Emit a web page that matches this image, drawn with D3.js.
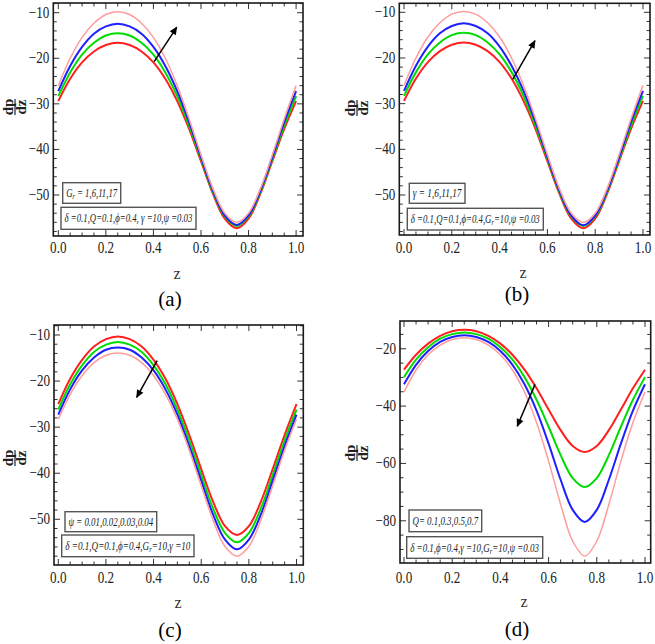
<!DOCTYPE html>
<html><head><meta charset="utf-8">
<script src="https://cdn.jsdelivr.net/npm/d3@7"></script>
<style>
body{margin:0;background:#fff}
svg{display:block}
svg text{font-family:"Liberation Serif","DejaVu Serif",serif}
</style>
</head><body><svg id="c" width="655" height="644"></svg>
<script>
// ---------- data ----------
const zGrid = [0,0.05,0.1,0.15,0.2,0.25,0.3,0.35,0.4,0.45,0.5,0.55,0.6,0.65,0.7,0.75,0.8,0.85,0.9,0.95,1.0];
const xTicks = [0,0.2,0.4,0.6,0.8,1.0];
const yTicksABC = [-50,-40,-30,-20,-10];
const yTicksD = [-80,-60,-40,-20];

// panel (a): G_r = 1,6,11,17
const aRed   = [-29.4,-24.5,-20.9,-18.5,-17.1,-16.6,-17.1,-18.5,-20.9,-24.5,-29.4,-35.5,-42.6,-49.7,-55.2,-57.3,-55.2,-49.7,-42.6,-35.5,-29.4];
const aGreen = [-28.3,-23.1,-19.2,-16.6,-15.0,-14.5,-15.0,-16.6,-19.2,-23.1,-28.3,-34.8,-42.1,-49.3,-54.7,-56.8,-54.7,-49.3,-42.1,-34.8,-28.3];
const aBlue  = [-27.2,-21.7,-17.5,-14.6,-13.0,-12.4,-13.0,-14.6,-17.5,-21.7,-27.2,-34.0,-41.7,-49.0,-54.5,-56.6,-54.5,-49.0,-41.7,-34.0,-27.2];
const aPink  = [-26.0,-20.0,-15.4,-12.3,-10.4,-9.8,-10.4,-12.3,-15.4,-20.0,-26.0,-33.3,-41.2,-48.6,-54.0,-56.0,-54.0,-48.6,-41.2,-33.3,-26.0];
// panel (b): gamma = 1,6,11,17
const bRed   = [-29.4,-24.5,-20.9,-18.5,-17.1,-16.6,-17.1,-18.5,-20.9,-24.5,-29.4,-35.5,-42.6,-49.7,-55.2,-57.3,-55.2,-49.7,-42.6,-35.5,-29.4];
const bGreen = [-28.3,-23.1,-19.2,-16.6,-15.0,-14.5,-15.0,-16.6,-19.2,-23.1,-28.3,-34.8,-42.1,-49.3,-54.7,-56.8,-54.7,-49.3,-42.1,-34.8,-28.3];
const bBlue  = [-27.2,-21.7,-17.5,-14.6,-13.0,-12.4,-13.0,-14.6,-17.5,-21.7,-27.2,-34.0,-41.7,-49.0,-54.5,-56.6,-54.5,-49.0,-41.7,-34.0,-27.2];
const bPink  = [-26.0,-20.0,-15.4,-12.3,-10.4,-9.8,-10.4,-12.3,-15.4,-20.0,-26.0,-33.3,-41.2,-48.6,-54.0,-56.0,-54.0,-48.6,-41.2,-33.3,-26.0];
// panel (c): psi = 0.01,0.02,0.03,0.04
const cRed   = [-25.0,-19.5,-15.4,-12.5,-10.9,-10.3,-10.9,-12.5,-15.4,-19.5,-25.0,-31.7,-39.1,-46.2,-51.5,-53.4,-51.5,-46.2,-39.1,-31.7,-25.0];
const cGreen = [-26.2,-20.7,-16.6,-13.7,-12.1,-11.5,-12.1,-13.7,-16.6,-20.7,-26.2,-32.9,-40.4,-47.7,-53.0,-55.0,-53.0,-47.7,-40.4,-32.9,-26.2];
const cBlue  = [-27.3,-21.8,-17.7,-14.9,-13.2,-12.7,-13.2,-14.9,-17.7,-21.8,-27.3,-34.1,-41.6,-49.0,-54.4,-56.5,-54.4,-49.0,-41.6,-34.1,-27.3];
const cPink  = [-28.3,-22.9,-18.8,-16.0,-14.4,-13.9,-14.4,-16.0,-18.8,-22.9,-28.3,-35.0,-42.7,-50.2,-55.9,-58.0,-55.9,-50.2,-42.7,-35.0,-28.3];
// panel (d): Q = 0.1,0.3,0.5,0.7
const dRed   = [-27.3,-22.1,-18.2,-15.5,-13.9,-13.4,-13.9,-15.5,-18.2,-22.1,-27.3,-33.8,-41.2,-48.4,-53.9,-56.0,-53.9,-48.4,-41.2,-33.8,-27.3];
const dGreen = [-29.9,-23.8,-19.5,-16.5,-14.9,-14.3,-14.9,-16.5,-19.5,-23.8,-29.9,-37.8,-47.2,-57.1,-65.1,-68.2,-65.1,-57.1,-47.2,-37.8,-29.9];
const dBlue  = [-32.4,-25.6,-20.8,-17.6,-15.9,-15.3,-15.9,-17.6,-20.8,-25.6,-32.4,-41.6,-53.1,-65.7,-76.2,-80.4,-76.2,-65.7,-53.1,-41.6,-32.4];
const dPink  = [-35.1,-27.4,-22.1,-18.7,-16.8,-16.2,-16.8,-18.7,-22.1,-27.4,-35.1,-45.7,-59.2,-74.3,-87.1,-92.3,-87.1,-74.3,-59.2,-45.7,-35.1];

const seriesOrder = ["red","green","blue","pink"];
const legendA1 = [["G",0],["r",1],[" = 1,6,11,17",0]];
const legendA2 = [["δ =0.1,Q=0.1,ϕ=0.4, γ =10,ψ =0.03",0]];
const legendB1 = [["γ = 1,6,11,17",0]];
const legendB2 = [["δ =0.1,Q=0.1,ϕ=0.4,G",0],["r",1],["=10,ψ =0.03",0]];
const legendC1 = [["ψ = 0.01,0.02,0.03,0.04",0]];
const legendC2 = [["δ =0.1,Q=0.1,ϕ=0.4,G",0],["r",1],["=10,γ =10",0]];
const legendD1 = [["Q= 0.1,0.3,0.5,0.7",0]];
const legendD2 = [["δ =0.1,ϕ=0.4,γ =10,G",0],["r",1],["=10,ψ =0.03",0]];
// arrows in data coordinates [z0,v0,z1,v1]
const arrowA = [0.403,-20.75,0.498,-13.2];
const arrowB = [0.455,-24.67,0.548,-16.22];
const arrowC = [0.415,-15.58,0.329,-23.52];
const arrowD = [0.5436,-32.42,0.470,-47.04];

// ---------- style ----------
const colors = {red:"#ff1f1f", green:"#00dc00", blue:"#1f1fff", pink:"#ff9c9c"};
const widths = {red:2, green:2, blue:2, pink:1.5};
const svg = d3.select("#c");

const defs = svg.append("defs");
defs.append("marker").attr("id","ah").attr("viewBox","0 0 10 10")
  .attr("refX",9).attr("refY",5).attr("markerWidth",9).attr("markerHeight",8)
  .attr("markerUnits","userSpaceOnUse").attr("orient","auto")
  .append("path").attr("d","M0,0.5 L10,5 L0,9.5 Z").attr("fill","#000");

const panels = [
  {frame:[53.3,3,303,236], xDom:[-0.021,1.029], yDom:[-59.0,-7.87], yTicks:yTicksABC, yMinor:2,
   series:{red:aRed,green:aGreen,blue:aBlue,pink:aPink}, arrow:arrowA,
   boxes:[[62.7,182.7,120.7,203.3,legendA1],[61,207.3,196,229.3,legendA2]],
   tickBase:253, zPos:[177,279], ylab:[15,107], tag:"(a)", tagPos:[170,306]},
  {frame:[399.3,3.3,650,235], xDom:[-0.0197,1.0293], yDom:[-58.76,-8.03], yTicks:yTicksABC, yMinor:2,
   series:{red:bRed,green:bGreen,blue:bBlue,pink:bPink}, arrow:arrowB,
   boxes:[[409.3,183.3,465,203.3,legendB1],[407.3,208.3,543.3,230,legendB2]],
   tickBase:253, zPos:[523,278], ylab:[357,108], tag:"(b)", tagPos:[517,301]},
  {frame:[54,325,303.3,565], xDom:[-0.018,1.0285], yDom:[-59.92,-7.83], yTicks:yTicksABC, yMinor:2,
   series:{red:cRed,green:cGreen,blue:cBlue,pink:cPink}, arrow:arrowC,
   boxes:[[65,511.7,156.7,531.7,legendC1],[61.7,535,194,556.7,legendC2]],
   tickBase:583, zPos:[178,608], ylab:[15,458], tag:"(c)", tagPos:[170,637]},
  {frame:[400,321,650.7,563], xDom:[-0.0166,1.0237], yDom:[-94.73,-10.32], yTicks:yTicksD, yMinor:5,
   series:{red:dRed,green:dGreen,blue:dBlue,pink:dPink}, arrow:arrowD,
   boxes:[[409,510,481.7,531.7,legendD1],[406.7,536.7,542.7,558.3,legendD2]],
   tickBase:583, zPos:[524,607], ylab:[357,453], tag:"(d)", tagPos:[517,636]}
];

function condensedText(g, x, y, str, size, anchor, sx) {
  return g.append("text").attr("font-size",size)
    .attr("text-anchor",anchor).attr("transform",`translate(${x},${y}) scale(${sx},1)`).text(str);
}

panels.forEach(p => {
  const [x0,y0,x1,y1] = p.frame;
  const x = d3.scaleLinear().domain(p.xDom).range([x0,x1]);
  const y = d3.scaleLinear().domain(p.yDom).range([y1,y0]);
  const g = svg.append("g");
  const clipId = "clip" + p.tag.replace(/\W/g,"");
  defs.append("clipPath").attr("id",clipId).append("rect").attr("x",x0).attr("y",y0).attr("width",x1-x0).attr("height",y1-y0);

  const line = d3.line().x((d,i)=>x(zGrid[i])).y(d=>y(d)).curve(d3.curveCatmullRom.alpha(0.5));
  const cg = g.append("g").attr("clip-path",`url(#${clipId})`);
  seriesOrder.forEach(k => {
    cg.append("path").attr("d", line(p.series[k])).attr("fill","none")
      .attr("stroke", colors[k]).attr("stroke-width", widths[k]).attr("stroke-linejoin","round");
  });

  // ticks
  const tg = g.append("g").attr("stroke","#333").attr("stroke-width",1);
  d3.range(0, 1.0001, 0.05).forEach(t => {
    const major = xTicks.some(v => Math.abs(v - t) < 1e-6);
    const L = major ? 6 : 3.5;
    const px = x(t);
    tg.append("line").attr("x1",px).attr("x2",px).attr("y1",y1).attr("y2",y1-L);
    tg.append("line").attr("x1",px).attr("x2",px).attr("y1",y0).attr("y2",y0+L);
  });
  const ys = p.yMinor;
  d3.range(Math.ceil(p.yDom[0]/ys)*ys, p.yDom[1]+1e-6, ys).forEach(t => {
    const major = p.yTicks.includes(t);
    const L = major ? 6 : 3.5;
    const py = y(t);
    tg.append("line").attr("x1",x0).attr("x2",x0+L).attr("y1",py).attr("y2",py);
    tg.append("line").attr("x1",x1).attr("x2",x1-L).attr("y1",py).attr("y2",py);
  });

  // frame
  g.append("rect").attr("x",x0).attr("y",y0).attr("width",x1-x0).attr("height",y1-y0)
    .attr("fill","none").attr("stroke","#1a1a1a").attr("stroke-width",1.6);

  // tick labels
  const fmt = d3.format(".1f");
  xTicks.forEach(t => condensedText(g, x(t), p.tickBase, fmt(t), 16, "middle", 0.82).attr("fill","#222"));
  p.yTicks.forEach(t => condensedText(g, x0-4, y(t)+5, "\u2212" + Math.abs(t), 16, "end", 0.82).attr("fill","#222"));

  // axis labels
  g.append("text").attr("font-size",16).attr("text-anchor","middle")
    .attr("x",p.zPos[0]).attr("y",p.zPos[1]).attr("fill","#333").text("z");
  const yl = g.append("g").attr("transform",`translate(${p.ylab[0]},${p.ylab[1]}) rotate(-90)`);
  yl.append("text").attr("font-size",15).attr("font-weight","bold")
    .attr("text-anchor","middle").attr("x",0).attr("y",-2.5).attr("fill","#222").text("dp");
  yl.append("line").attr("x1",-8).attr("x2",8).attr("y1",0).attr("y2",0).attr("stroke","#222").attr("stroke-width",1.2);
  yl.append("text").attr("font-size",15).attr("font-weight","bold")
    .attr("text-anchor","middle").attr("x",0).attr("y",10.5).attr("fill","#222").text("dz");

  g.append("text").attr("font-size",21).attr("text-anchor","middle")
    .attr("x",p.tagPos[0]).attr("y",p.tagPos[1]).attr("fill","#000").text(p.tag);

  // arrow
  const a = p.arrow;
  g.append("line").attr("x1",x(a[0])).attr("y1",y(a[1])).attr("x2",x(a[2])).attr("y2",y(a[3]))
    .attr("stroke","#000").attr("stroke-width",1.5).attr("marker-end","url(#ah)");

  // legend boxes
  p.boxes.forEach(b => {
    const [bx0,by0,bx1,by1,segs] = b;
    g.append("rect").attr("x",bx0).attr("y",by0).attr("width",bx1-bx0).attr("height",by1-by0)
      .attr("fill","#fff").attr("stroke","#555").attr("stroke-width",1.4);
    const t = g.append("text").attr("font-size",12).attr("font-style","italic").attr("fill","#222");
    let prevSub = false;
    segs.forEach(s => {
      const sp = t.append("tspan").text(s[0]);
      if (s[1]) { sp.attr("font-size",8.5).attr("dy",2); prevSub = true; }
      else { if (prevSub) sp.attr("dy",-2); prevSub = false; }
    });
    const w = t.node().getComputedTextLength();
    const sx = ((bx1-bx0) - 7) / w;
    t.attr("transform",`translate(${bx0+3.5},${(by0+by1)/2+4})`);
    t.attr("transform",`translate(${bx0+3.5},${(by0+by1)/2+4}) scale(${sx},1)`);
  });
});
</script>
</body></html>
